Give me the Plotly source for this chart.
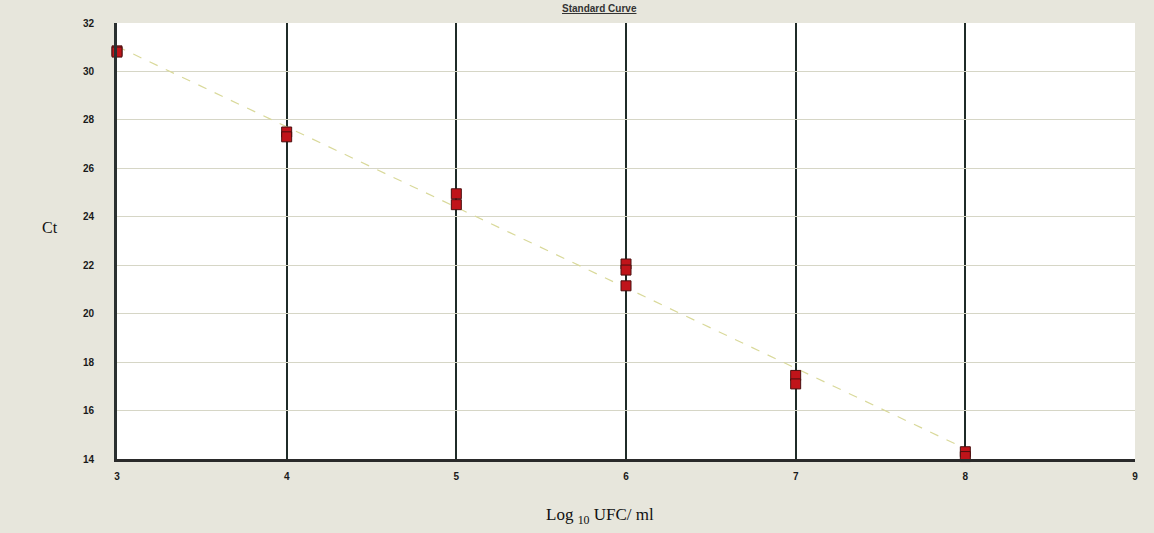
import numpy as np
import plotly.graph_objects as go

# Data
log_ufc = [3, 3, 4, 4, 5, 5, 6, 6, 6, 7, 7, 8, 8]
ct_vals = [30.85, 30.8, 27.5, 27.3, 24.95, 24.5, 22.05, 21.8, 21.15, 17.45, 17.1, 14.3, 14.1]
x_ticks = [3, 4, 5, 6, 7, 8, 9]
y_ticks = [14, 16, 18, 20, 22, 24, 26, 28, 30, 32]

slope, intercept = np.polyfit(log_ufc, ct_vals, 1)
fit_x = [min(log_ufc), max(log_ufc)]
fit_y = [slope * v + intercept for v in fit_x]

fig = go.Figure()
fig.add_trace(go.Scatter(
    x=fit_x, y=fit_y, mode="lines",
    line=dict(color="#d9d99a", width=1.2, dash="dash"),
    hoverinfo="skip", showlegend=False))
fig.add_trace(go.Scatter(
    x=log_ufc, y=ct_vals, mode="markers",
    marker=dict(symbol="square", size=10, color="#c0141a",
                line=dict(color="#4a1010", width=1)),
    showlegend=False, cliponaxis=False))

tick_font = dict(size=10, family="Arial, Liberation Sans, sans-serif",
                 color="#1a1a1a", weight="bold")

fig.update_layout(
    width=1154, height=533,
    margin=dict(l=117, r=19, t=23, b=74),
    paper_bgcolor="#e7e6dc",
    plot_bgcolor="#ffffff",
    font=dict(family="Arial, Liberation Sans, sans-serif", color="#222222"),
    xaxis=dict(range=[3, 9], tickvals=x_ticks, showgrid=True,
               gridcolor="#1f2b28", gridwidth=2, zeroline=False,
               showline=True, linecolor="#2a2a2a", linewidth=3,
               tickfont=tick_font, ticks="", ticklabelstandoff=6),
    yaxis=dict(range=[14, 32], tickvals=y_ticks, showgrid=True,
               gridcolor="#d6d6c6", gridwidth=1, zeroline=False,
               showline=True, linecolor="#2a3030", linewidth=3,
               tickfont=tick_font, ticks="", ticklabelstandoff=18),
    annotations=[
        dict(text="<b><u>Standard Curve</u></b>", xref="paper", yref="paper",
             x=0.474, y=1.034, yanchor="middle", showarrow=False,
             font=dict(size=10, family="Arial, sans-serif", color="#333333")),
        dict(text="Ct", xref="paper", yref="paper", x=-0.0756, y=0.53,
             yanchor="middle", showarrow=False,
             font=dict(size=16, family="Liberation Serif, Times New Roman, serif", color="#111111")),
        dict(text="Log <sub>10</sub> UFC/ ml", xref="paper", yref="paper",
             x=0.474, y=-0.131, yanchor="middle", showarrow=False,
             font=dict(size=17, family="Liberation Serif, Times New Roman, serif", color="#111111")),
    ],
)

fig.write_html("out.html")
